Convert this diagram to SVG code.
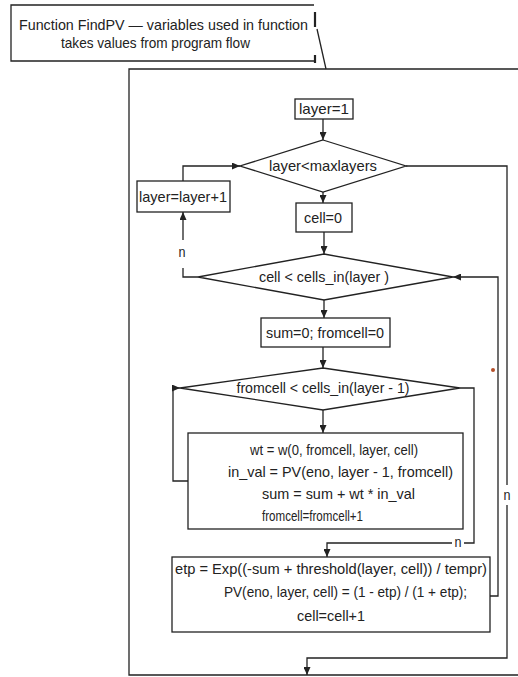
<svg xmlns="http://www.w3.org/2000/svg" width="518" height="677" viewBox="0 0 518 677">
<defs>
<style>
.ln{fill:none;stroke:#222;stroke-width:1.3}
.bx{fill:none;stroke:#222;stroke-width:1.3}
.t{font-family:"Liberation Sans Narrow","Liberation Sans",Arial,sans-serif;font-size:15px;fill:#222}
.m{text-anchor:middle}
</style>
<marker id="ah" markerWidth="8" markerHeight="7" refX="8" refY="3.5" orient="auto" markerUnits="userSpaceOnUse">
<path d="M0,0 L8,3.5 L0,7 z" fill="#222"/>
</marker>
</defs>
<rect width="518" height="677" fill="#fff"/>

<g id="note">
<path class="bx" d="M314,5 H11 V61 H314"/>
<path d="M315,12 V27 M315,55 V63" stroke="#222" stroke-width="2.2" fill="none"/>
<path class="ln" d="M317,29 L326,69"/>
<text class="t" x="19" y="30" textLength="289" lengthAdjust="spacingAndGlyphs">Function FindPV —  variables used in function</text>
<text class="t" x="61" y="48" textLength="189" lengthAdjust="spacingAndGlyphs">takes values from program flow</text>
</g>

<g id="frame">
<path class="bx" d="M518,69 H129 V675 H518"/>
</g>

<g id="n_layer1">
<rect class="bx" x="295" y="99" width="58" height="20"/>
<text class="t m" x="324" y="114" textLength="50" lengthAdjust="spacingAndGlyphs">layer=1</text>
</g>

<g id="d_layers">
<polygon class="bx" points="323,140 406,166 323,192 240,166"/>
<text class="t m" x="323" y="171" textLength="108" lengthAdjust="spacingAndGlyphs">layer&lt;maxlayers</text>
</g>

<g id="n_layerinc">
<rect class="bx" x="137" y="181" width="93" height="31"/>
<text class="t m" x="183" y="202" textLength="88" lengthAdjust="spacingAndGlyphs">layer=layer+1</text>
</g>

<g id="n_cell0">
<rect class="bx" x="296" y="203" width="56" height="29"/>
<text class="t m" x="323" y="223" textLength="38" lengthAdjust="spacingAndGlyphs">cell=0</text>
</g>

<g id="d_cells">
<polygon class="bx" points="324,254 453,277 324,300 198,277"/>
<text class="t m" x="324" y="282" textLength="130" lengthAdjust="spacingAndGlyphs">cell &lt; cells_in(layer )</text>
</g>

<g id="n_sum0">
<rect class="bx" x="261" y="318" width="129" height="29"/>
<text class="t m" x="325" y="338" textLength="118" lengthAdjust="spacingAndGlyphs">sum=0; fromcell=0</text>
</g>

<g id="d_fromcell">
<polygon class="bx" points="323,368 460,388 323,410 180,388"/>
<text class="t m" x="323" y="393" textLength="173" lengthAdjust="spacingAndGlyphs">fromcell &lt; cells_in(layer - 1)</text>
</g>

<g id="n_body">
<rect class="bx" x="188" y="433" width="275" height="96"/>
<text class="t" x="250" y="455" textLength="168" lengthAdjust="spacingAndGlyphs">wt = w(0, fromcell, layer, cell)</text>
<text class="t" x="228" y="477" textLength="225" lengthAdjust="spacingAndGlyphs">in_val = PV(eno, layer - 1, fromcell)</text>
<text class="t" x="262" y="499" textLength="153" lengthAdjust="spacingAndGlyphs">sum = sum + wt * in_val</text>
<text class="t" x="262" y="521" textLength="101" lengthAdjust="spacingAndGlyphs">fromcell=fromcell+1</text>
</g>

<g id="n_etp">
<rect class="bx" x="172" y="557" width="318" height="75"/>
<text class="t" x="175" y="574" textLength="312" lengthAdjust="spacingAndGlyphs">etp = Exp((-sum + threshold(layer, cell)) / tempr)</text>
<text class="t" x="224" y="597" textLength="243" lengthAdjust="spacingAndGlyphs">PV(eno, layer, cell) = (1 - etp) / (1 + etp);</text>
<text class="t m" x="331" y="621" textLength="68" lengthAdjust="spacingAndGlyphs">cell=cell+1</text>
</g>

<g id="connectors">
<path class="ln" d="M323,119 V140" marker-end="url(#ah)"/>
<path class="ln" d="M323,192 V203" marker-end="url(#ah)"/>
<path class="ln" d="M324,232 V254" marker-end="url(#ah)"/>
<path class="ln" d="M324,300 V318" marker-end="url(#ah)"/>
<path class="ln" d="M323,347 V368" marker-end="url(#ah)"/>
<path class="ln" d="M323,410 V433" marker-end="url(#ah)"/>
<path class="ln" d="M188,481 H173 V388 H180" marker-end="url(#ah)"/>
<path class="ln" d="M460,388 H474 V543 H464"/>
<path class="ln" d="M452,543 H327 V557" marker-end="url(#ah)"/>
<text class="t m" x="458" y="547" textLength="7" lengthAdjust="spacingAndGlyphs">n</text>
<path class="ln" d="M490,596 H498 V277 H453" marker-end="url(#ah)"/>
<path class="ln" d="M198,277 H183 V268"/>
<text class="t m" x="182" y="257" textLength="7" lengthAdjust="spacingAndGlyphs">n</text>
<path class="ln" d="M183,240 V212" marker-end="url(#ah)"/>
<path class="ln" d="M183,181 V166 H240" marker-end="url(#ah)"/>
<path class="ln" d="M406,166 H507 V485"/>
<text class="t m" x="507" y="500" textLength="7" lengthAdjust="spacingAndGlyphs">n</text>
<path class="ln" d="M507,505 V658 H307 V675" marker-end="url(#ah)"/>
</g>

<circle cx="493" cy="370" r="2" fill="#b5502a"/>
</svg>
